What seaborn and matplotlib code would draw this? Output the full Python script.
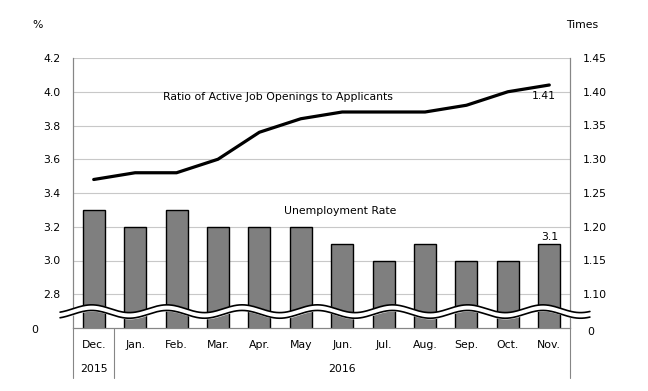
import numpy as np
import pandas as pd
import matplotlib
matplotlib.use("Agg")
import matplotlib.pyplot as plt
import matplotlib.transforms as mtransforms
import seaborn as sns

months = ["Dec.", "Jan.", "Feb.", "Mar.", "Apr.", "May", "Jun.", "Jul.", "Aug.", "Sep.", "Oct.", "Nov."]
unemployment = [3.3, 3.2, 3.3, 3.2, 3.2, 3.2, 3.1, 3.0, 3.1, 3.0, 3.0, 3.1]
ratio = [1.27, 1.28, 1.28, 1.30, 1.34, 1.36, 1.37, 1.37, 1.37, 1.38, 1.40, 1.41]
left_ticks = [2.8, 3.0, 3.2, 3.4, 3.6, 3.8, 4.0, 4.2]
right_ticks = [1.10, 1.15, 1.20, 1.25, 1.30, 1.35, 1.40, 1.45]

sns.set_style("white")
plt.rcParams["font.family"] = ["DejaVu Sans"]
plt.rcParams["font.size"] = 7.8
plt.rcParams["text.color"] = "black"
plt.rcParams["xtick.color"] = "black"
plt.rcParams["ytick.color"] = "black"

df = pd.DataFrame({"month": months, "rate": unemployment, "ratio": ratio, "pos": np.arange(len(months))})

fig, ax = plt.subplots(figsize=(6.48, 3.91), dpi=100)
fig.subplots_adjust(left=73 / 648, right=570 / 648, top=1 - 58 / 391, bottom=1 - 328 / 391)

sns.barplot(data=df, x="month", y="rate", ax=ax, color="#7f7f7f", saturation=1,
            width=0.53, edgecolor="black", linewidth=1)
ax.set_ylim(2.6, 4.2)
ax.set_xlim(-0.5, len(months) - 0.5)
ax.set_yticks(left_ticks)
ax.set_yticklabels([f"{t:.1f}" for t in left_ticks])
ax.yaxis.grid(True, color="#c8c8c8", linewidth=0.8)
ax.set_axisbelow(True)
ax.set_xlabel("")
ax.set_ylabel("")
ax.tick_params(axis="y", length=0, pad=9)
ax.tick_params(axis="x", length=0, pad=9)
for s in ["left", "right", "bottom"]:
    ax.spines[s].set_color("#868686")
    ax.spines[s].set_linewidth(0.8)
ax.spines["top"].set_visible(False)

ax2 = ax.twinx()
sns.lineplot(data=df, x="pos", y="ratio", ax=ax2, color="black", linewidth=2.3)
ax2.set_ylim(1.05, 1.45)
ax2.set_yticks(right_ticks)
ax2.set_yticklabels([f"{t:.2f}" for t in right_ticks])
ax2.tick_params(axis="y", length=0, pad=9)
ax2.set_ylabel("")
ax2.set_xlabel("")
ax2.set_xlim(-0.5, len(months) - 0.5)
for s in ["left", "right", "bottom"]:
    ax2.spines[s].set_color("#868686")
    ax2.spines[s].set_linewidth(0.8)
ax2.spines["top"].set_visible(False)

# wavy axis break band
xw = np.linspace(-0.026, 1.04, 400)
center = 0.061 + 0.0144 * np.cos(2 * np.pi * (xw - 0.189) / 0.1513)
top = center + 0.0104
bot = center - 0.0104
ax2.fill_between(xw, bot, top, color="white", transform=ax2.transAxes, clip_on=False, zorder=5)
ax2.plot(xw, top, color="black", lw=1.2, transform=ax2.transAxes, clip_on=False, zorder=6)
ax2.plot(xw, bot, color="black", lw=1.2, transform=ax2.transAxes, clip_on=False, zorder=6)

# separators below the category axis
trans = mtransforms.blended_transform_factory(ax.transData, ax.transAxes)
for xs in [-0.5, 0.5, len(months) - 0.5]:
    ax.plot([xs, xs], [0, -0.185], color="#868686", lw=0.8, transform=trans, clip_on=False)
ax.text(0, -0.152, "2015", transform=trans, ha="center", va="center")
ax.text((1 + len(months) - 1) / 2, -0.152, "2016", transform=trans, ha="center", va="center")

# axis labels and zeros
fig.text(38 / 648, 1 - 25 / 391, "%", ha="center", va="center")
fig.text(582 / 648, 1 - 25 / 391, "Times", ha="center", va="center")
fig.text(35 / 648, 1 - 330 / 391, "0", ha="center", va="center")
fig.text(591 / 648, 1 - 332 / 391, "0", ha="center", va="center")

# annotations
ax2.text(4.45, 1.392, "Ratio of Active Job Openings to Applicants", ha="center", va="center")
ax.text(5.95, 3.293, "Unemployment Rate", ha="center", va="center")
ax2.annotate(f"{ratio[-1]:.2f}", xy=(len(ratio) - 1, ratio[-1]), xytext=(-4, -8),
             textcoords="offset points", ha="center", va="center")
ax.annotate(f"{unemployment[-1]:.1f}", xy=(len(unemployment) - 1, unemployment[-1]), xytext=(0, 5),
            textcoords="offset points", ha="center", va="center")

plt.savefig("out.png", dpi=100)
